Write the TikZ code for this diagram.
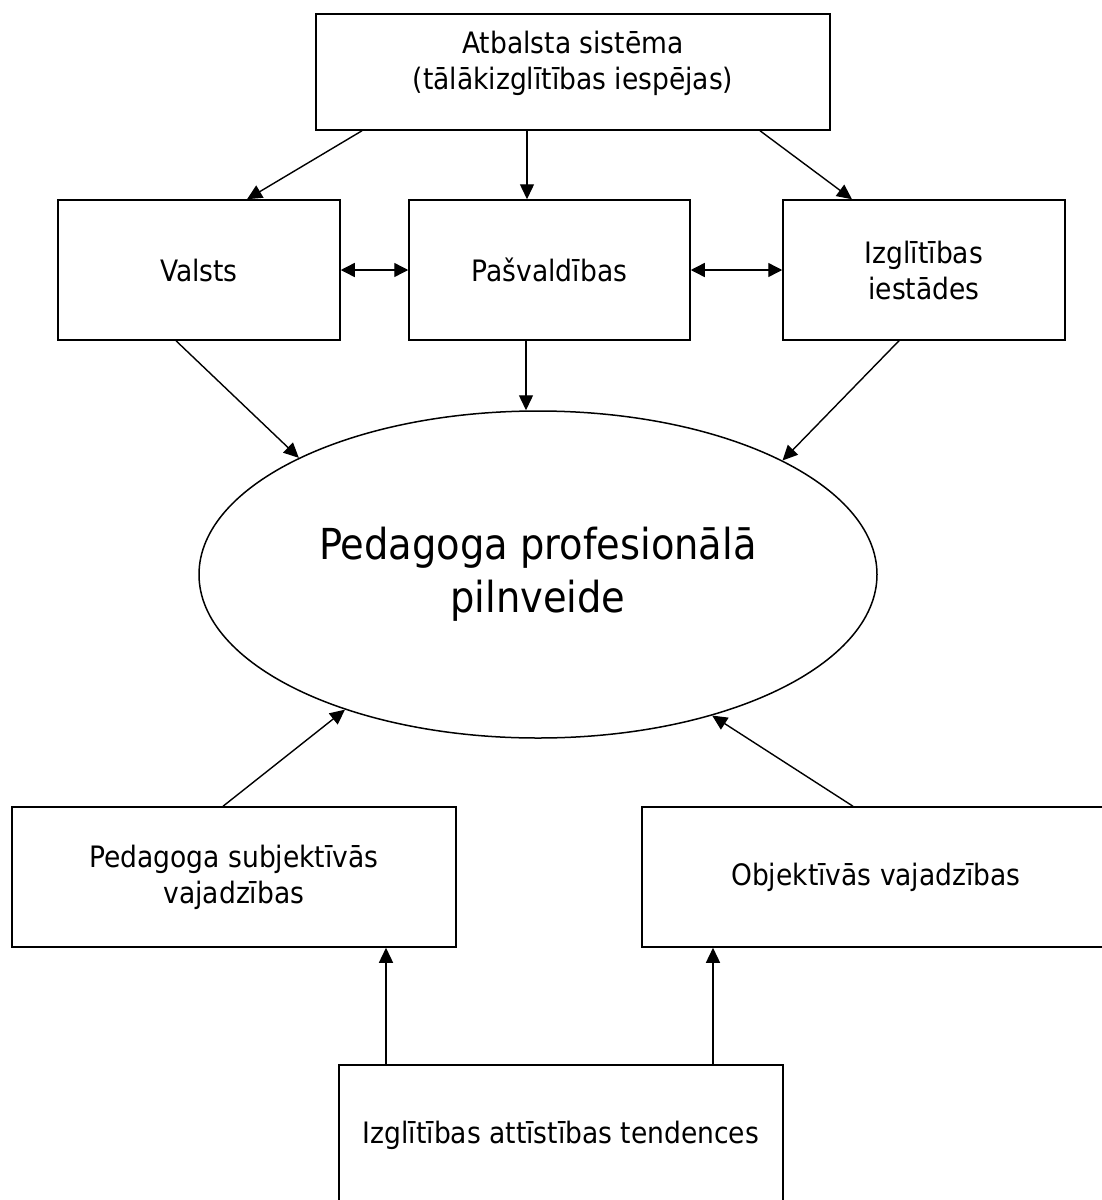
\documentclass[tikz,border=0pt]{standalone}
\usepackage{fontspec}
\setmainfont{DejaVu Sans Condensed}
\usetikzlibrary{shapes.geometric,arrows.meta}
\begin{document}
\begin{tikzpicture}[x=1pt,y=-1pt,
  box/.style={draw,line width=1.5pt,rectangle,align=center,inner sep=0pt,
    font=\fontsize{29.5}{36}\selectfont},
  arr/.style={line width=1.4pt,-{Triangle[length=15pt,width=14pt]}},
  darr/.style={line width=1.4pt,{Triangle[length=14pt,width=14pt]}-{Triangle[length=14pt,width=14pt]}}]
\useasboundingbox (0,0) rectangle (1101,1200);

\node[box,minimum width=514pt,minimum height=116pt,text depth=23pt] (top) at (573,72)
  {Atbalsta sistēma\\(tālākizglītības iespējas)};
\node[box,minimum width=282pt,minimum height=140pt] (valsts) at (199,270) {Valsts};
\node[box,minimum width=281pt,minimum height=140pt] (pas) at (549.5,270) {Pašvaldības};
\node[box,minimum width=282pt,minimum height=140pt] (izgl) at (924,270) {Izglītības\\iestādes};
\node[draw,ellipse,line width=1.5pt,minimum width=678pt,minimum height=327pt,inner sep=0pt,
  align=center,font=\fontsize{42.7}{53}\selectfont] (ell) at (538,574.5)
  {Pedagoga profesionālā\\pilnveide};
\node[box,minimum width=444pt,minimum height=140pt] (subj) at (234,877)
  {Pedagoga subjektīvās\\vajadzības};
\node[box,minimum width=468pt,minimum height=140pt] (obj) at (876,877)
  {Objektīvās vajadzības};
\node[box,minimum width=444pt,minimum height=140pt] (bot) at (561,1135)
  {Izglītības attīstības tendences};

\draw[arr] ([xshift=-211pt]top.south) -- ([xshift=48pt]valsts.north);
\draw[arr] ([xshift=-46pt]top.south) -- ([xshift=-22.5pt]pas.north);
\draw[arr] ([xshift=187pt]top.south) -- ([xshift=-72pt]izgl.north);
\draw[darr] (valsts.east) -- (pas.west);
\draw[darr] (pas.east) -- (izgl.west);
\draw[arr] ([xshift=-23pt]valsts.south) -- (ell.154.6);
\draw[arr] ([xshift=-23.5pt]pas.south) -- ([xshift=-23.5pt]pas.south |- ell.north);
\draw[arr] ([xshift=-25pt]izgl.south) -- (ell.25.5);
\draw[arr] ([xshift=-11pt]subj.north) -- (ell.215.2);
\draw[arr] ([xshift=-23pt]obj.north) -- (ell.321.4);
\draw[arr] ([xshift=-175pt]bot.north) -- ([xshift=-175pt]bot.north |- subj.south);
\draw[arr] ([xshift=152pt]bot.north) -- ([xshift=152pt]bot.north |- obj.south);
\end{tikzpicture}
\end{document}
